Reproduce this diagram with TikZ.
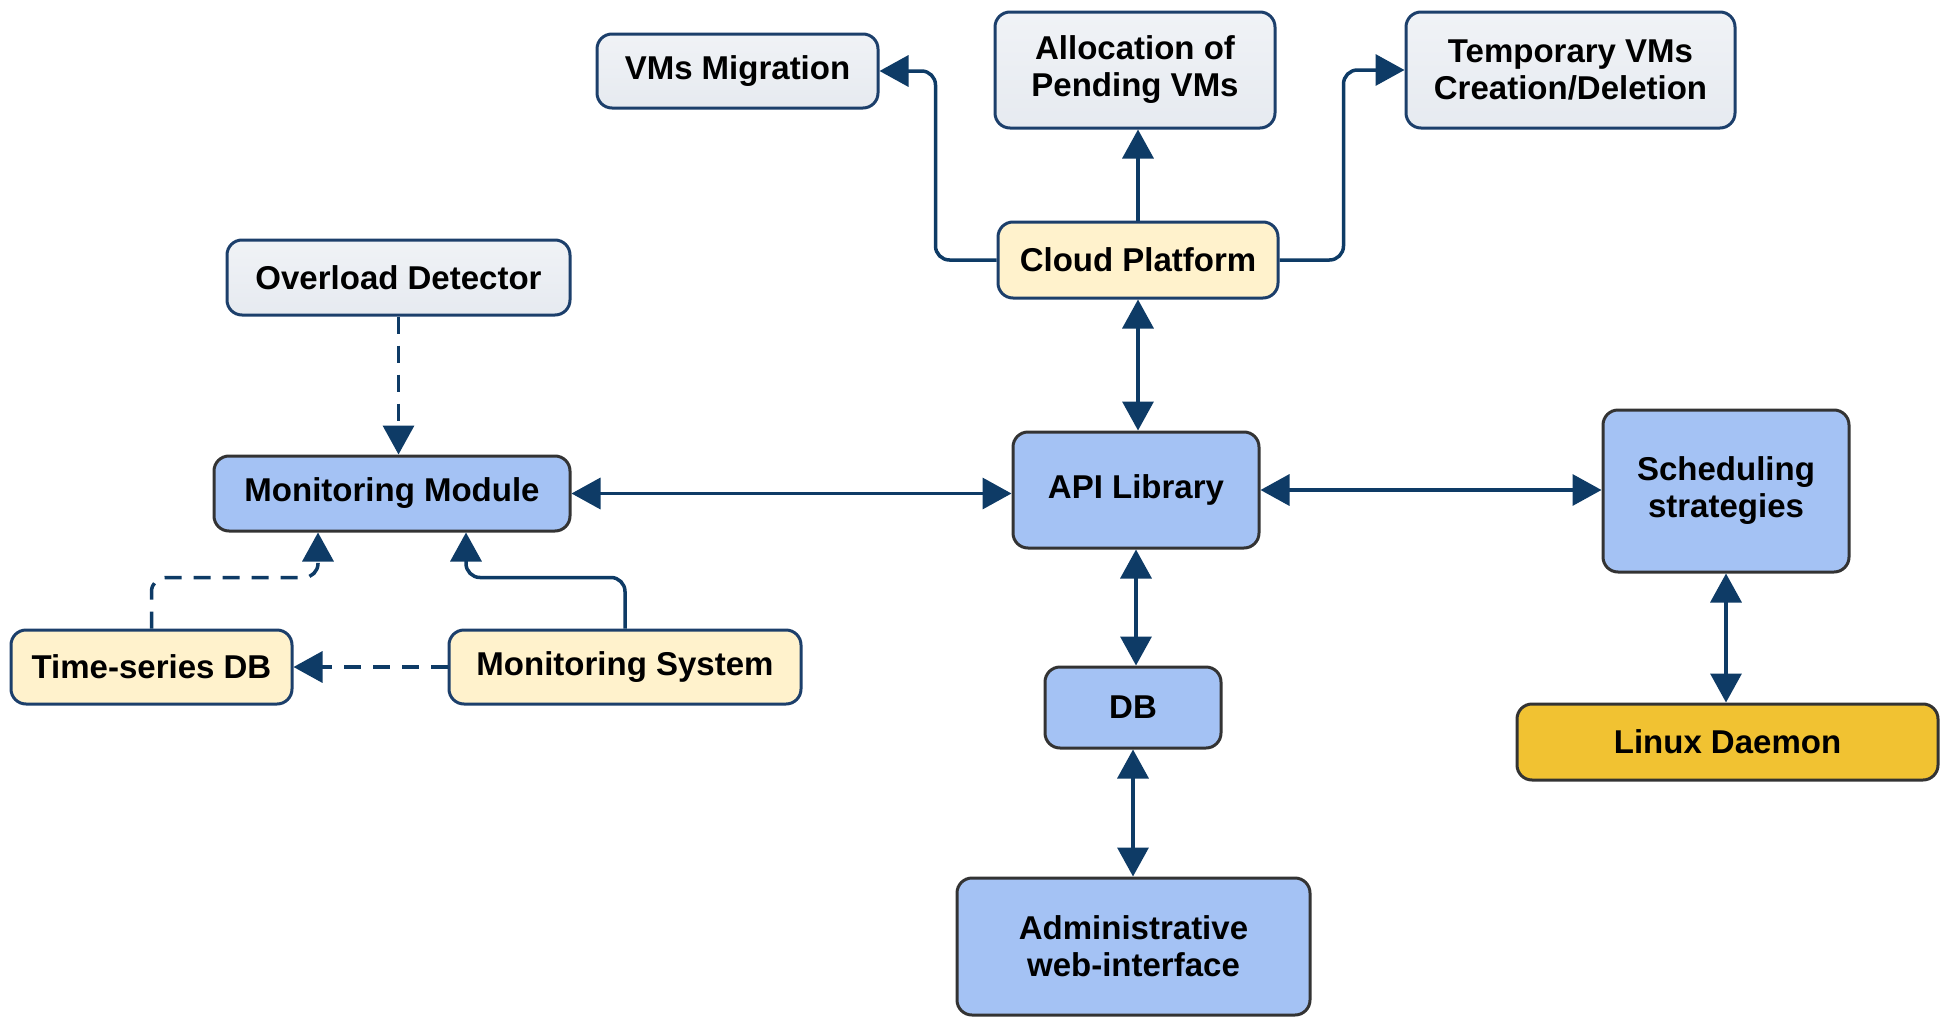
\documentclass[tikz,border=0pt]{standalone}
\usepackage{fontspec}
\setmainfont{Liberation Sans}[BoldFont={Liberation Sans Bold}]
\usetikzlibrary{arrows.meta,calc}
\definecolor{navy}{HTML}{1C3F6B}
\definecolor{arrc}{HTML}{0E3B66}
\definecolor{grayfill}{HTML}{E6EAF0}
\definecolor{bluefill}{HTML}{A4C2F4}
\definecolor{creamfill}{HTML}{FFF2CC}
\definecolor{yellowfill}{HTML}{F1C232}
\definecolor{darkedge}{HTML}{333333}
\begin{document}
\begin{tikzpicture}[x=1pt,y=-1pt,
  base/.style={rectangle, rounded corners=15pt, line width=3pt, align=center,
    font=\fontsize{33}{37}\selectfont\bfseries, inner sep=0pt},
  graybox/.style={base, draw=navy, top color=white!40!grayfill, bottom color=grayfill},
  bluebox/.style={base, draw=darkedge, fill=bluefill},
  creambox/.style={base, draw=navy, fill=creamfill},
  yellowbox/.style={base, draw=darkedge, fill=yellowfill},
  arr/.style={draw=arrc, line width=3.5pt, -{Triangle[length=29pt,width=31pt]}},
  darr/.style={arr, {Triangle[length=29pt,width=31pt]}-{Triangle[length=29pt,width=31pt]}},
  dsh/.style={dash pattern=on 17pt off 12pt}]
\useasboundingbox (0,0) rectangle (1947,1017);

\node[graybox, minimum width=281pt, minimum height=74pt] (mig) at (737.5,71) {VMs Migration};
\node[graybox, minimum width=280pt, minimum height=116pt] (alloc) at (1135,70) {Allocation of\\Pending VMs};
\node[graybox, minimum width=329pt, minimum height=116pt] (temp) at (1570.5,70) {Temporary VMs\\Creation/Deletion};
\node[creambox, minimum width=280pt, minimum height=76pt] (cloud) at (1138,260) {Cloud Platform};
\node[graybox, minimum width=343pt, minimum height=75pt] (over) at (398.5,277.5) {Overload Detector};
\node[bluebox, minimum width=356pt, minimum height=75pt] (mm) at (392,493.5) {Monitoring Module};
\node[bluebox, minimum width=246pt, minimum height=116pt] (api) at (1136,490) {API Library};
\node[bluebox, minimum width=246pt, minimum height=162pt] (sched) at (1726,491) {Scheduling\\strategies};
\node[creambox, minimum width=281pt, minimum height=74pt] (ts) at (151.5,667) {Time-series DB};
\node[creambox, minimum width=352pt, minimum height=74pt] (ms) at (625,667) {Monitoring System};
\node[bluebox, minimum width=176pt, minimum height=81pt] (db) at (1133,707.5) {DB};
\node[yellowbox, minimum width=421pt, minimum height=76pt] (linux) at (1727.5,742) {Linux Daemon};
\node[bluebox, minimum width=353pt, minimum height=137pt] (admin) at (1133.5,946.5) {Administrative\\web-interface};

% Cloud platform outputs
\draw[arr, rounded corners=14pt] (cloud.west) -- ++(-61,0) |- (mig.east);
\draw[arr] (cloud.north) -- (cloud.north |- alloc.south);
\draw[arr, rounded corners=14pt] (cloud.east) -- ++(64,0) |- (temp.west);

% bidirectional links
\draw[darr] (cloud.south) -- (cloud.south |- api.north);
\draw[darr] (mm.east) -- (mm.east -| api.west);
\draw[darr] (api.east) -- (api.east -| sched.west);
\draw[darr] (api.south) -- (api.south |- db.north);
\draw[darr] (db.south) -- (db.south |- admin.north);
\draw[darr] (sched.south) -- (sched.south |- linux.north);

% monitoring part
\draw[arr, dsh] (over.south) -- (over.south |- mm.north);
\draw[arr, dsh, rounded corners=14pt] (ts.north) -- ++(0,-51) -| ([xshift=-74pt]mm.south);
\draw[arr, rounded corners=14pt] (ms.north) -- ++(0,-51) -| ([xshift=74pt]mm.south);
\draw[arr, dsh] (ms.west) -- (ts.east);
\end{tikzpicture}
\end{document}
